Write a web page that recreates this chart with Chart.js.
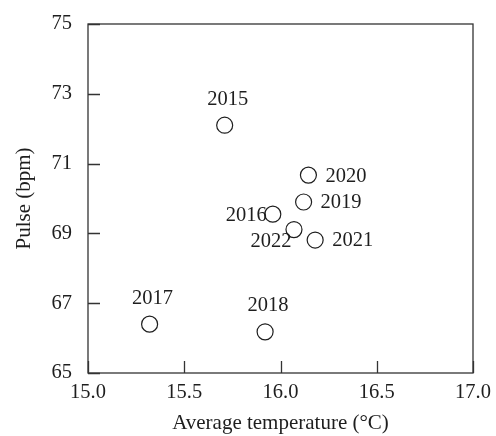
<!DOCTYPE html>
<html>
<head>
<meta charset="utf-8">
<script src="https://cdn.jsdelivr.net/npm/chart.js@4/dist/chart.umd.min.js"></script>
<style>
  html, body { margin: 0; padding: 0; background: #fff; }
  #wrap { width: 496px; height: 436px; }
</style>
</head>
<body>
<div id="wrap"><canvas id="c" width="496" height="436"></canvas></div>
<script>
// Yearly averages: temperature (°C) against resting pulse (bpm)
const years = ['2015', '2016', '2017', '2018', '2019', '2020', '2021', '2022'];
const avgTemperature = [15.71, 15.96, 15.32, 15.92, 16.12, 16.145, 16.18, 16.07];
const pulseBpm = [72.10, 69.55, 66.40, 66.18, 69.90, 70.67, 68.81, 69.11];

const xTickValues = [15.0, 15.5, 16.0, 16.5, 17.0];
const yTickValues = [65, 67, 69, 71, 73, 75];

// Where each year's label sits relative to its marker
const labelPlacement = {
  '2015': 'above', '2017': 'above', '2018': 'above',
  '2019': 'right', '2020': 'right', '2021': 'right',
  '2016': 'left', '2022': 'belowLeft'
};

const FONT = "'Liberation Serif', 'Times New Roman', serif";
const INK = '#1e1e1e';
const AXIS = '#333';
const TICK_LEN = 12;

const points = years.map((y, i) => ({ x: avgTemperature[i], y: pulseBpm[i] }));

// Closed frame round the plot area plus tick marks pointing inward
const frame = {
  id: 'frame',
  afterDraw(chart) {
    const a = chart.chartArea;
    const ctx = chart.ctx;
    const xs = chart.scales.x, ys = chart.scales.y;
    ctx.save();
    ctx.strokeStyle = AXIS;
    ctx.lineWidth = 1.3;
    ctx.strokeRect(a.left, a.top, a.right - a.left, a.bottom - a.top);
    ctx.beginPath();
    xs.ticks.forEach(t => {
      const px = Math.round(xs.getPixelForValue(t.value)) + 0.5;
      ctx.moveTo(px, a.bottom);
      ctx.lineTo(px, a.bottom - TICK_LEN);
    });
    ys.ticks.forEach(t => {
      const py = Math.round(ys.getPixelForValue(t.value)) + 0.5;
      ctx.moveTo(a.left, py);
      ctx.lineTo(a.left + TICK_LEN, py);
    });
    ctx.stroke();
    ctx.restore();
  }
};

const yearLabels = {
  id: 'yearLabels',
  afterDatasetsDraw(chart) {
    const ctx = chart.ctx;
    const meta = chart.getDatasetMeta(0);
    ctx.save();
    ctx.font = '20.5px ' + FONT;
    ctx.fillStyle = INK;
    ctx.textBaseline = 'middle';
    meta.data.forEach((el, i) => {
      const label = years[i];
      const where = labelPlacement[label];
      let x = el.x, y = el.y;
      if (where === 'above') { ctx.textAlign = 'center'; x += 3; y -= 26; }
      else if (where === 'right') { ctx.textAlign = 'left'; x += 17; y += 1; }
      else if (where === 'left') { ctx.textAlign = 'right'; x -= 6; y += 1; }
      else { ctx.textAlign = 'center'; x -= 23; y += 12; }
      ctx.fillText(label, x, y);
    });
    ctx.restore();
  }
};

function fixedTicks(values) {
  return scale => { scale.ticks = values.map(v => ({ value: v })); };
}

function fixedSize(prop, size) {
  return scale => {
    scale[prop] = size;
    scale.paddingLeft = 0; scale.paddingRight = 0;
    scale.paddingTop = 0; scale.paddingBottom = 0;
  };
}

new Chart(document.getElementById('c'), {
  type: 'scatter',
  data: {
    datasets: [{
      data: points,
      pointStyle: 'circle',
      pointRadius: 8,
      pointHoverRadius: 8,
      pointBorderWidth: 1.2,
      pointBorderColor: INK,
      pointBackgroundColor: '#fff'
    }]
  },
  options: {
    responsive: false,
    animation: false,
    events: [],
    layout: { padding: { left: 0, top: 24, right: 23, bottom: 0 } },
    plugins: { legend: { display: false }, tooltip: { enabled: false } },
    scales: {
      x: {
        type: 'linear',
        min: 15, max: 17,
        afterBuildTicks: fixedTicks(xTickValues),
        afterFit: fixedSize('height', 63),
        grid: { display: false, drawTicks: false },
        border: { display: false },
        ticks: {
          padding: 7,
          color: INK,
          font: { family: FONT, size: 20.5 },
          callback: v => Number(v).toFixed(1),
          maxRotation: 0, autoSkip: false
        },
        title: {
          display: true,
          text: 'Average temperature (°C)',
          color: INK,
          font: { family: FONT, size: 21 },
          padding: { top: 0, bottom: 0 }
        }
      },
      y: {
        type: 'linear',
        min: 65, max: 75,
        afterBuildTicks: fixedTicks(yTickValues),
        afterFit: fixedSize('width', 88),
        grid: { display: false, drawTicks: false },
        border: { display: false },
        ticks: {
          padding: 16,
          color: INK,
          font: { family: FONT, size: 20.5 },
          autoSkip: false
        },
        title: {
          display: true,
          text: 'Pulse (bpm)',
          color: INK,
          font: { family: FONT, size: 21 },
          padding: { top: 12, bottom: 0 }
        }
      }
    }
  },
  plugins: [frame, yearLabels]
});
</script>
</body>
</html>
